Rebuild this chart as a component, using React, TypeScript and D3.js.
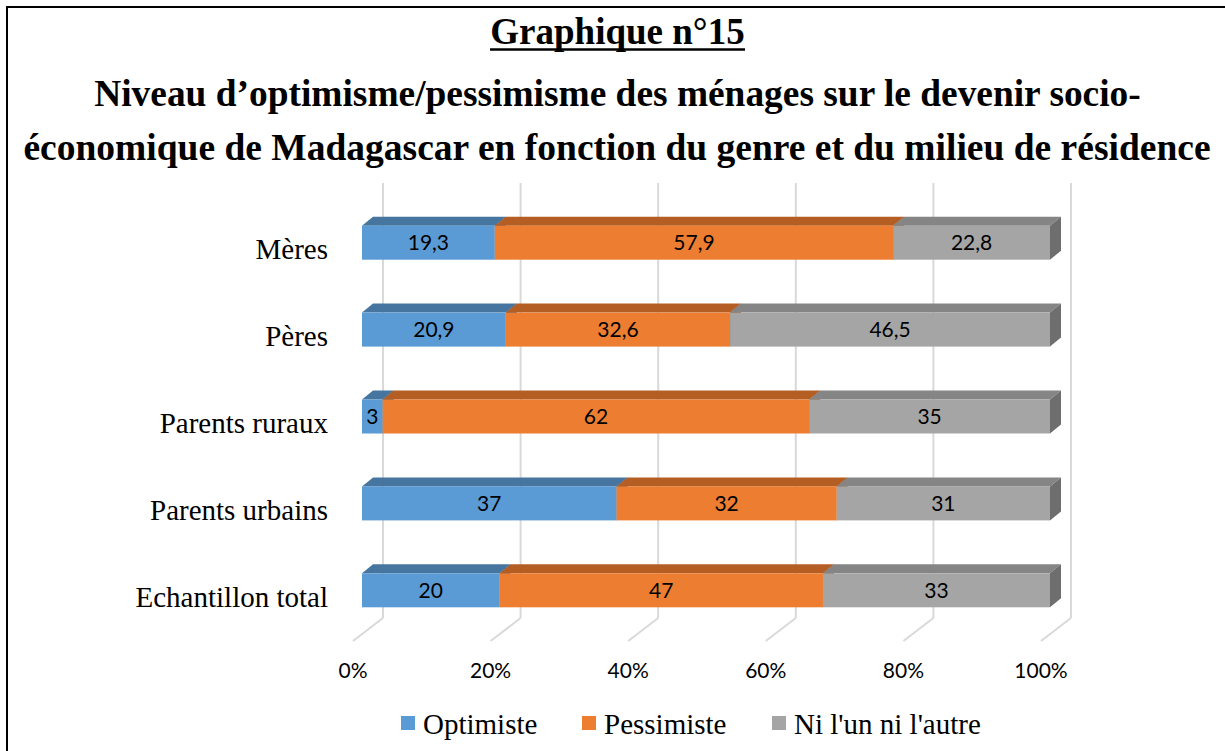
import React from "react";
import * as d3 from "d3";

const categories = ["Mères", "Pères", "Parents ruraux", "Parents urbains", "Echantillon total"];
const optimiste = [19.3, 20.9, 3, 37, 20];
const pessimiste = [57.9, 32.6, 62, 32, 47];
const niLunNiLautre = [22.8, 46.5, 35, 31, 33];
const seriesNames = ["Optimiste", "Pessimiste", "Ni l'un ni l'autre"];
const tickValues = [0, 20, 40, 60, 80, 100];

const W = 1225;
const H = 751;

const palette = [
  { front: "#5B9BD5", top: "#46769F", side: "#3E6A91" },
  { front: "#ED7D31", top: "#B55E24", side: "#A2521D" },
  { front: "#A5A5A5", top: "#858585", side: "#6E6E6E" },
];

const serif = "'Liberation Serif', 'Times New Roman', serif";
const sans = "Lato, 'Open Sans', sans-serif";

export default function App() {
  const seriesValues = [optimiste, pessimiste, niLunNiLautre];
  const x = d3.scaleLinear().domain([0, 100]).range([362, 1050]);
  const y = d3.scalePoint<string>().domain(categories).range([242.7, 590.3]);
  const barH = 34;
  const ddx = 11, ddy = -9; // bar depth
  const wallDx = 21; // back wall offset from bar front
  const floorDx = -9; // floor front offset from bar front
  const gridTop = 183, gridBottom = 618, floorFrontY = 641;

  const fmt = (v: number) => d3.format("~g")(v).replace(".", ",");

  const stackData = categories.map((c, i) => {
    let acc = 0;
    return seriesValues.map((s, k) => {
      const x0 = acc;
      acc += s[i];
      return { cat: c, k, x0, x1: acc, v: s[i] };
    });
  });

  const legendX = [401, 582, 772];

  return (
    <div style={{ position: "fixed", left: 0, top: 0, width: W, height: H, background: "#fff" }}>
      <svg width={W} height={H} viewBox={`0 0 ${W} ${H}`} style={{ display: "block" }}>
        <rect x={0} y={0} width={W} height={H} fill="#fff" />
        <rect x={7} y={7} width={W + 50} height={H + 50} fill="none" stroke="#000" strokeWidth={2} />

        {/* Titles */}
        <text x={617.5} y={43.5} textAnchor="middle" fontFamily={serif} fontWeight="bold" fontSize={37}>
          Graphique n°15
        </text>
        <line x1={490} x2={745} y1={49.5} y2={49.5} stroke="#000" strokeWidth={2.5} />
        <text x={617.5} y={106} textAnchor="middle" fontFamily={serif} fontWeight="bold" fontSize={37.4}>
          Niveau d’optimisme/pessimisme des ménages sur le devenir socio-
        </text>
        <text x={617} y={160} textAnchor="middle" fontFamily={serif} fontWeight="bold" fontSize={37.5}>
          économique de Madagascar en fonction du genre et du milieu de résidence
        </text>

        {/* Gridlines: back wall + floor */}
        {tickValues.map((t) => {
          const xb = x(t) + wallDx;
          const xf = x(t) + floorDx;
          return (
            <g key={t}>
              <line x1={xb} x2={xb} y1={gridTop} y2={gridBottom} stroke="#D9D9D9" strokeWidth={2} />
              <line x1={xb} y1={gridBottom} x2={xf} y2={floorFrontY} stroke="#D9D9D9" strokeWidth={2} />
              <text x={xf} y={678} textAnchor="middle" fontFamily={sans} fontSize={21} fill="#000">
                {t}%
              </text>
            </g>
          );
        })}

        {/* Bars */}
        {stackData.map((segs, i) => {
          const yTop = (y(categories[i]) as number) - barH / 2;
          return (
            <g key={i}>
              {segs.map((s) => {
                const xa = x(s.x0), xb = x(s.x1);
                const c = palette[s.k];
                const top = `M${xa},${yTop} L${xa + ddx},${yTop + ddy} L${xb + ddx},${yTop + ddy} L${xb},${yTop} Z`;
                const side = `M${xb},${yTop} L${xb + ddx},${yTop + ddy} L${xb + ddx},${yTop + barH + ddy} L${xb},${yTop + barH} Z`;
                return (
                  <g key={s.k}>
                    <path d={top} fill={c.top} />
                    <path d={side} fill={c.side} />
                    <rect x={xa} y={yTop} width={xb - xa} height={barH} fill={c.front} />
                  </g>
                );
              })}
              {segs.map((s) => (
                <text key={"l" + s.k} x={(x(s.x0) + x(s.x1)) / 2} y={yTop + barH / 2 + 7.5}
                  textAnchor="middle" fontFamily={sans} fontSize={21} fill="#000">
                  {fmt(s.v)}
                </text>
              ))}
              <text x={328} y={yTop + barH / 2 + 16.5} textAnchor="end" fontFamily={serif} fontSize={29} fill="#000">
                {categories[i]}
              </text>
            </g>
          );
        })}

        {/* Legend */}
        {seriesNames.map((n, k) => (
          <g key={n}>
            <rect x={legendX[k]} y={716} width={14} height={14} fill={palette[k].front} />
            <text x={legendX[k] + 22} y={733.5} fontFamily={serif} fontSize={29} fill="#000">
              {n}
            </text>
          </g>
        ))}
      </svg>
    </div>
  );
}
